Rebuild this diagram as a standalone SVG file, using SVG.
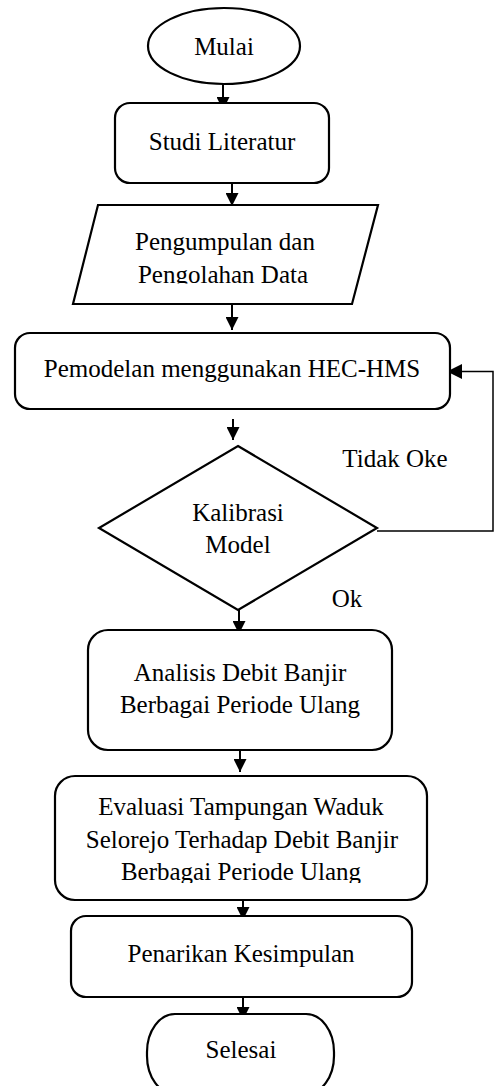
<svg xmlns="http://www.w3.org/2000/svg" width="494" height="1086" viewBox="0 0 494 1086">
<style>
.shape{fill:#fff;stroke:#000;stroke-width:2.2}
.t{font-family:"Liberation Serif","Times New Roman",serif;font-size:25px;fill:#000;text-anchor:middle}
.c{fill:none;stroke:#000;stroke-width:2}
.fb{fill:none;stroke:#000;stroke-width:1.5}
</style>
<defs>
<marker id="ah" viewBox="0 0 13 13" refX="13" refY="6.5" markerWidth="13" markerHeight="13" orient="auto" markerUnits="userSpaceOnUse"><path d="M0,0 L13,6.5 L0,13 z" fill="#000"/></marker>
<marker id="ah2" viewBox="0 0 15 15" refX="15" refY="7.5" markerWidth="15" markerHeight="15" orient="auto" markerUnits="userSpaceOnUse"><path d="M0,0 L15,7.5 L0,15 z" fill="#000"/></marker>
<clipPath id="clipData"><rect x="60" y="200" width="330" height="83.5"/></clipPath>
<clipPath id="clipEval"><rect x="50" y="770" width="380" height="113"/></clipPath>
</defs>
<rect width="494" height="1086" fill="#fff"/>

<g id="connectors">
<line class="c" x1="223" y1="84" x2="223" y2="110" marker-end="url(#ah)"/>
<line class="c" x1="232" y1="183" x2="232" y2="206" marker-end="url(#ah)"/>
<line class="c" x1="232" y1="304" x2="232" y2="330" marker-end="url(#ah)"/>
<line class="c" x1="233" y1="419" x2="233" y2="440" marker-end="url(#ah)"/>
<line class="c" x1="239" y1="610" x2="239" y2="634" marker-end="url(#ah)"/>
<line class="c" x1="240" y1="750" x2="240" y2="772" marker-end="url(#ah)"/>
<line class="c" x1="243" y1="900" x2="243" y2="920" marker-end="url(#ah)"/>
<line class="c" x1="243" y1="997" x2="243" y2="1020" marker-end="url(#ah)"/>
<polyline class="fb" points="377,531 493,531 493,371.5 447,371.5" marker-end="url(#ah2)"/>
<text class="t" x="395" y="467">Tidak Oke</text>
<text class="t" x="347" y="607">Ok</text>
</g>

<g id="mulai">
<ellipse class="shape" cx="224" cy="46" rx="76" ry="38"/>
<text class="t" x="224" y="55">Mulai</text>
</g>

<g id="studi">
<rect class="shape" x="115" y="103" width="214" height="80" rx="15"/>
<text class="t" x="222" y="150">Studi Literatur</text>
</g>

<g id="data">
<polygon class="shape" points="98,205 378,205 352,304 73,304"/>
<g clip-path="url(#clipData)">
<text class="t" x="225" y="250">Pengumpulan dan</text>
<text class="t" x="223" y="283">Pengolahan Data</text>
</g>
</g>

<g id="pemodelan">
<rect class="shape" x="15" y="333" width="435" height="76" rx="15"/>
<text class="t" x="232" y="377">Pemodelan menggunakan HEC-HMS</text>
</g>

<g id="kalibrasi">
<polygon class="shape" points="238,446 377,528 238,610 99,528"/>
<text class="t" x="238" y="521">Kalibrasi</text>
<text class="t" x="238" y="553">Model</text>
</g>

<g id="analisis">
<rect class="shape" x="88" y="630" width="304" height="120" rx="20"/>
<text class="t" x="240" y="681">Analisis Debit Banjir</text>
<text class="t" x="240" y="713">Berbagai Periode Ulang</text>
</g>

<g id="evaluasi">
<rect class="shape" x="55" y="776" width="372" height="124" rx="20"/>
<g clip-path="url(#clipEval)">
<text class="t" x="241" y="815">Evaluasi Tampungan Waduk</text>
<text class="t" x="242" y="848">Selorejo Terhadap Debit Banjir</text>
<text class="t" x="241" y="880">Berbagai Periode Ulang</text>
</g>
</g>

<g id="penarikan">
<rect class="shape" x="71" y="916" width="341" height="81" rx="15"/>
<text class="t" x="241" y="962">Penarikan Kesimpulan</text>
</g>

<g id="selesai">
<rect class="shape" x="147" y="1014" width="187" height="80" rx="28" ry="38"/>
<text class="t" x="241" y="1058">Selesai</text>
</g>
</svg>
